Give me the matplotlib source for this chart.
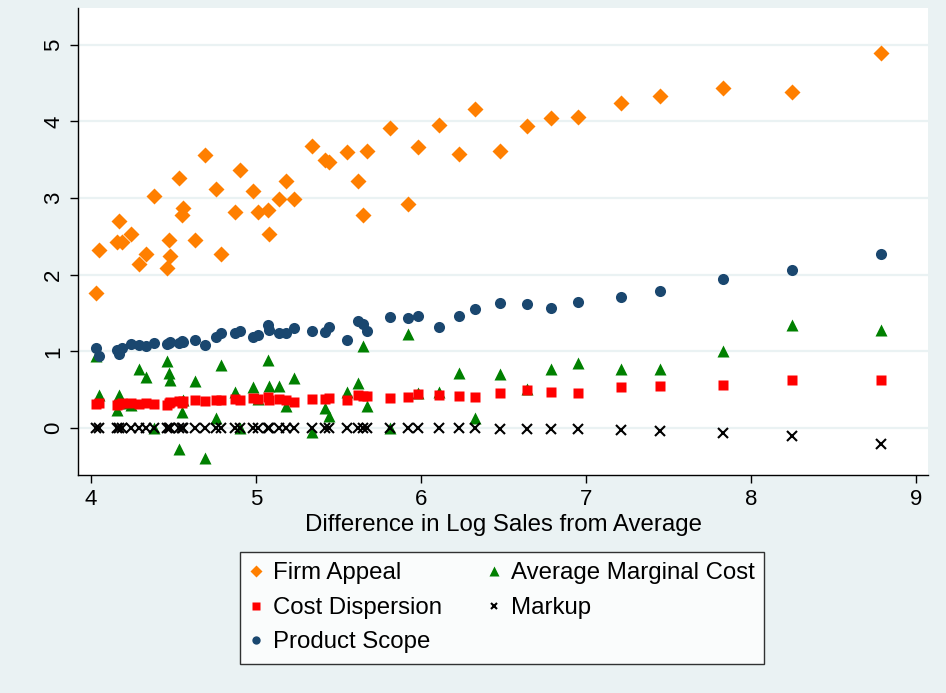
import numpy as np
import matplotlib.pyplot as plt

plt.rcParams['font.family'] = ['Liberation Sans', 'DejaVu Sans']

# difference in log sales from average (shared by all series)
x = [4.03, 4.05, 4.16, 4.17, 4.19, 4.24, 4.29, 4.33, 4.38, 4.46,
     4.47, 4.48, 4.53, 4.55, 4.56, 4.63, 4.69, 4.76, 4.79, 4.87,
     4.90, 4.98, 5.01, 5.07, 5.08, 5.14, 5.18, 5.23, 5.34, 5.42,
     5.44, 5.55, 5.62, 5.65, 5.67, 5.81, 5.92, 5.98, 6.11, 6.23,
     6.33, 6.48, 6.64, 6.79, 6.95, 7.21, 7.45, 7.83, 8.25, 8.79]

firm_appeal = [1.76, 2.32, 2.43, 2.70, 2.43, 2.53, 2.14, 2.27, 3.03, 2.09,
               2.45, 2.25, 3.26, 2.78, 2.87, 2.45, 3.56, 3.12, 2.27, 2.82,
               3.37, 3.09, 2.82, 2.85, 2.53, 2.99, 3.22, 2.99, 3.68, 3.50,
               3.47, 3.60, 3.22, 2.78, 3.62, 3.92, 2.92, 3.66, 3.96, 3.58,
               4.16, 3.62, 3.94, 4.05, 4.06, 4.24, 4.33, 4.44, 4.39, 4.89]

product_scope = [1.04, 0.94, 1.02, 0.97, 1.04, 1.10, 1.08, 1.07, 1.11, 1.10,
                 1.11, 1.12, 1.11, 1.13, 1.12, 1.15, 1.08, 1.19, 1.24, 1.24,
                 1.27, 1.19, 1.21, 1.34, 1.28, 1.24, 1.24, 1.31, 1.27, 1.25,
                 1.32, 1.15, 1.40, 1.36, 1.27, 1.45, 1.44, 1.46, 1.32, 1.46,
                 1.55, 1.63, 1.62, 1.57, 1.64, 1.71, 1.79, 1.94, 2.06, 2.27]

cost_disp = [0.31, 0.32, 0.30, 0.31, 0.32, 0.32, 0.31, 0.32, 0.31, 0.30,
             0.33, 0.34, 0.35, 0.33, 0.35, 0.36, 0.35, 0.36, 0.37, 0.38,
             0.36, 0.39, 0.38, 0.40, 0.37, 0.38, 0.36, 0.34, 0.38, 0.38,
             0.39, 0.37, 0.43, 0.42, 0.42, 0.39, 0.40, 0.44, 0.43, 0.42,
             0.41, 0.46, 0.50, 0.47, 0.46, 0.54, 0.55, 0.56, 0.63, 0.62]

avg_mc = [0.94, 0.43, 0.24, 0.43, 0.32, 0.30, 0.77, 0.67, 0.00, 0.87,
          0.72, 0.63, -0.27, 0.21, 0.36, 0.61, -0.39, 0.13, 0.82, 0.47,
          0.00, 0.54, 0.38, 0.89, 0.55, 0.55, 0.29, 0.65, -0.05, 0.26,
          0.16, 0.47, 0.59, 1.07, 0.29, 0.00, 1.23, 0.46, 0.47, 0.72,
          0.13, 0.70, 0.51, 0.77, 0.85, 0.77, 0.77, 1.00, 1.34, 1.28]

markup = [0.0] * 41 + [-0.01, -0.01, -0.01, -0.02, -0.03, -0.04, -0.07, -0.11, -0.21]

bg = '#EAF2F3'
fig = plt.figure(figsize=(9.46, 6.93), dpi=100, facecolor=bg)
ax = fig.add_axes([0.0825, 0.3146, 0.8985, 0.6738])
ax.set_facecolor('white')

ax.set_xlim(3.921, 9.073)
ax.set_ylim(-0.614, 5.48)
ax.set_yticks([0, 1, 2, 3, 4, 5])
ax.set_xticks([4, 5, 6, 7, 8, 9])
ax.grid(axis='y', color=bg, linewidth=1.6)
ax.set_axisbelow(True)

h1, = ax.plot(x, firm_appeal, 'D', color='#FF7F00', ms=8.5, mec='none', label='Firm Appeal')
h4, = ax.plot(x, avg_mc, '^', color='#008000', ms=9, mec='none', label='Average Marginal Cost')
h2, = ax.plot(x, cost_disp, 's', color='#FF0000', ms=7.5, mec='none', label='Cost Dispersion')
h3, = ax.plot(x, product_scope, 'o', color='#1A476F', ms=8, mec='none', label='Product Scope')
h5, = ax.plot(x, markup, 'x', color='black', ms=6.5, mew=1.5, label='Markup')

for s in ['top', 'right']:
    ax.spines[s].set_visible(False)
for s in ['left', 'bottom']:
    ax.spines[s].set_linewidth(1.0)
ax.tick_params(direction='out', length=6, width=1, labelsize=16, pad=4)
plt.setp(ax.get_yticklabels(), rotation=90, va='center')

ax.set_xlabel('Difference in Log Sales from Average', fontsize=17.3, labelpad=3)

leg = fig.legend(handles=[h1, h2, h3, h4, h5], ncol=2, loc='center',
                 bbox_to_anchor=(0.5307, 0.1227), fontsize=17.3, frameon=True,
                 fancybox=False, edgecolor='black', markerscale=0.75,
                 handlelength=0.5, handletextpad=0.46, columnspacing=1.9,
                 labelspacing=0.52, borderpad=0.42)
leg.get_frame().set_linewidth(1.0)

fig.savefig('out.png', dpi=100, facecolor=bg)
